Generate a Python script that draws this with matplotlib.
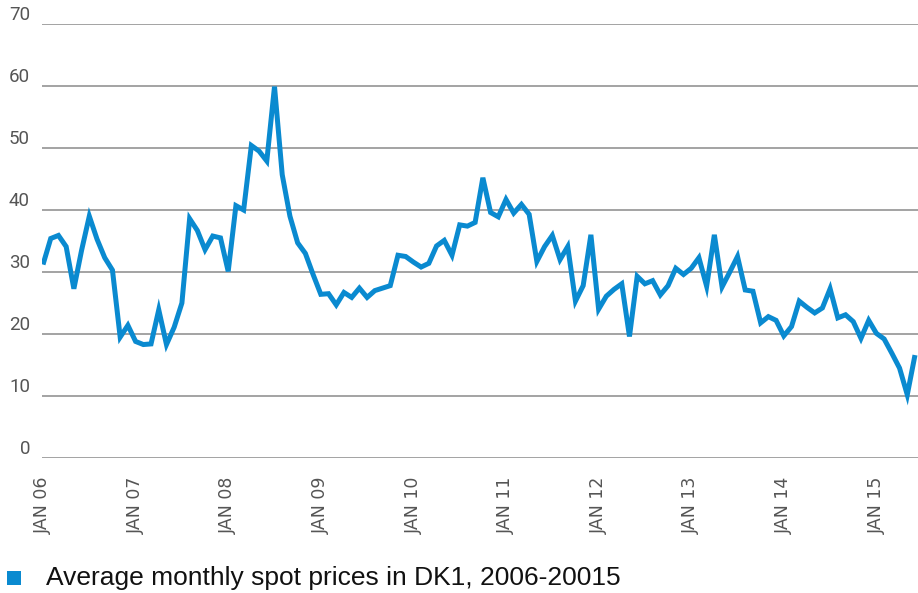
import matplotlib
matplotlib.use("Agg")
import matplotlib.pyplot as plt
from matplotlib.patches import Rectangle
import numpy as np

# Monthly average spot prices DK1, Jan 2006 - Jun 2015
prices_2006 = [31.2, 35.4, 35.9, 34.1, 27.3, 33.5, 39.0, 35.3, 32.3, 30.3, 19.5, 21.4]
prices_2007 = [18.8, 18.3, 18.4, 23.9, 18.3, 21.1, 25.0, 38.6, 36.7, 33.6, 35.8, 35.5]
prices_2008 = [30.1, 40.7, 40.0, 50.4, 49.5, 47.9, 59.9, 45.7, 39.0, 34.7, 33.0, 29.6]
prices_2009 = [26.4, 26.5, 24.7, 26.7, 25.9, 27.4, 25.9, 27.0, 27.4, 27.8, 32.7, 32.5]
prices_2010 = [31.6, 30.8, 31.4, 34.2, 35.1, 32.7, 37.6, 37.4, 38.0, 45.2, 39.6, 38.9]
prices_2011 = [41.7, 39.5, 40.9, 39.3, 31.7, 34.1, 35.9, 32.0, 34.1, 25.3, 27.8, 36.0]
prices_2012 = [24.0, 26.1, 27.2, 28.1, 19.6, 29.3, 28.1, 28.6, 26.3, 27.8, 30.6, 29.6]
prices_2013 = [30.6, 32.3, 27.7, 36.0, 27.6, 30.0, 32.5, 27.1, 26.9, 21.8, 22.8, 22.2]
prices_2014 = [19.7, 21.2, 25.3, 24.3, 23.4, 24.2, 27.3, 22.6, 23.1, 22.0, 19.3, 22.2]
prices_2015 = [20.1, 19.2, 16.9, 14.5, 10.2, 16.6]

prices = (prices_2006 + prices_2007 + prices_2008 + prices_2009 + prices_2010
          + prices_2011 + prices_2012 + prices_2013 + prices_2014 + prices_2015)

tick_labels = ["JAN 06", "JAN 07", "JAN 08", "JAN 09", "JAN 10",
               "JAN 11", "JAN 12", "JAN 13", "JAN 14", "JAN 15"]
y_ticks = [0, 10, 20, 30, 40, 50, 60, 70]
legend_label = "Average monthly spot prices in DK1, 2006-20015"

LINE_COLOR = "#0a8ad0"
GRID_COLOR = "#8a8a8a"
LABEL_COLOR = "#555555"

fig = plt.figure(figsize=(9.18, 5.93), dpi=100)
ax = fig.add_axes([42 / 918, 1 - 458 / 593, 1 - 42 / 918, (458 - 24) / 593])

months = np.arange(len(prices))
ax.plot(months, prices, color=LINE_COLOR, lw=3.6, solid_joinstyle="miter",
        solid_capstyle="butt", zorder=3)

ax.set_ylim(0, 70)
ax.set_xlim(-0.13, len(prices) - 1 + 0.39)

ax.set_yticks(y_ticks)
ax.set_yticklabels([str(v) for v in y_ticks])
ax.set_xticks(np.arange(len(tick_labels)) * 12)
ax.set_xticklabels(tick_labels, rotation=90)

for s in ax.spines.values():
    s.set_visible(False)
ax.grid(axis="y", color=GRID_COLOR, lw=1.1)
ax.grid(axis="x", visible=False)
ax.set_axisbelow(True)

ax.tick_params(axis="both", length=0)
ax.tick_params(axis="y", pad=8.6)
ax.tick_params(axis="x", pad=13.5)
for lab in ax.get_yticklabels():
    lab.set_family(["Roboto", "DejaVu Sans"])
    lab.set_fontsize(13.5)
    lab.set_color(LABEL_COLOR)
    lab.set_verticalalignment("bottom")
for lab in ax.get_xticklabels():
    lab.set_family(["DejaVu Sans"])
    lab.set_fontsize(12.5)
    lab.set_color(LABEL_COLOR)
    lab.set_verticalalignment("top")

# legend
fig.add_artist(Rectangle((7 / 918, 1 - 585 / 593), 14 / 918, 14 / 593,
                         transform=fig.transFigure, color=LINE_COLOR, lw=0))
fig.text(46 / 918, 1 - 578 / 593, legend_label, family=["Liberation Sans", "DejaVu Sans"],
         fontsize=19, color="#111111", va="center", ha="left")

fig.savefig("out.png", dpi=100)
